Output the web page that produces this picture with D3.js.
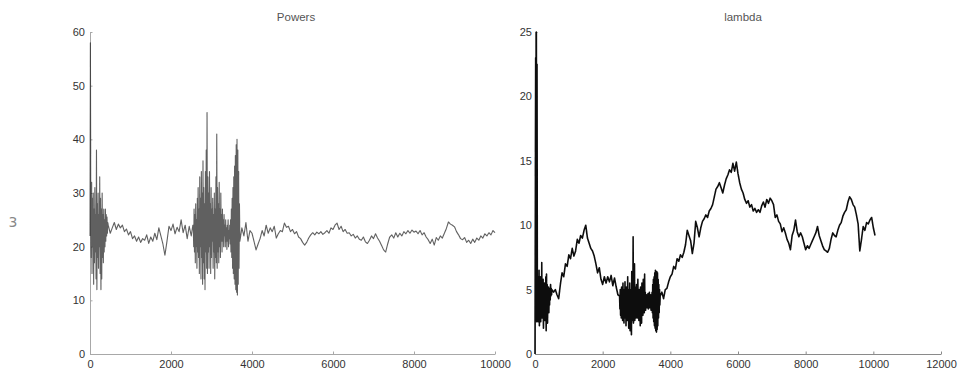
<!DOCTYPE html>
<html>
<head>
<meta charset="utf-8">
<script src="https://cdn.jsdelivr.net/npm/d3@7/dist/d3.min.js"></script>
<style>
  html, body { margin: 0; padding: 0; background: #fff; }
  svg { display: block; }
  .tick text { font-family: Arial, "Liberation Sans", sans-serif; font-size: 11px; fill: #333; }
</style>
</head>
<body>
<svg id="chart" width="962" height="378"></svg>
<script>
// Panel titles and tick values.
const powersTitle = 'Powers';
const lambdaTitle = 'lambda';
const powersXTicks = [0, 2000, 4000, 6000, 8000, 10000];
const powersYTicks = [0, 10, 20, 30, 40, 50, 60];
const lambdaXTicks = [0, 2000, 4000, 6000, 8000, 10000, 12000];
const lambdaYTicks = [0, 5, 10, 15, 20, 25];

// Powers: noisy burst near the start, [iteration, value].
const powersBurstA = [
  [0, 22], [10, 58], [20, 24], [30, 18], [40, 32], [50, 15], [60, 29], [70, 20], [80, 30], [90, 13],
  [100, 27], [110, 17], [120, 31], [130, 19], [140, 26], [150, 14], [160, 38], [170, 12], [180, 28], [190, 18],
  [200, 30], [210, 16], [220, 26], [230, 20], [240, 33], [250, 15], [260, 29], [270, 12], [280, 27], [290, 14],
  [300, 30], [310, 18], [320, 26], [330, 17], [340, 27], [350, 19], [360, 25], [370, 20], [380, 27], [390, 21],
  [400, 26], [410, 22], [420, 25.5], [430, 22.5], [440, 24.5]
];

// Powers: calm stretch between the two bursts, every 50 iterations.
const powersCalmA = [
  [450, 24], [500, 22.5], [550, 23.5], [600, 24.5], [650, 23.2], [700, 24.2], [750, 23.5], [800, 24], [850, 22.8],
  [900, 23.3], [950, 22.2], [1000, 22.8], [1050, 21.5], [1100, 22], [1150, 21], [1200, 21.8], [1250, 20.8],
  [1300, 21.5], [1350, 21.2], [1400, 22.2], [1450, 20.6], [1500, 21.8], [1550, 21], [1600, 22.5], [1650, 21.3],
  [1700, 23.5], [1750, 22], [1800, 20.5], [1850, 18.4], [1900, 21], [1950, 23.8], [2000, 23], [2050, 24.2],
  [2100, 22.4], [2150, 23.6], [2200, 22.8], [2250, 25], [2300, 22.6], [2350, 24], [2400, 21.5], [2450, 23.8],
  [2500, 22], [2540, 24]
];

// Powers: second burst, 2550 - 3700.
const powersBurstB = [
  [2550, 24], [2560, 20], [2570, 27], [2580, 19], [2590, 26], [2600, 17], [2610, 28], [2620, 20], [2630, 25], [2640, 16],
  [2650, 29], [2660, 19], [2670, 31], [2680, 18], [2690, 27], [2700, 15], [2710, 33], [2720, 20], [2730, 29], [2740, 14],
  [2750, 34], [2760, 18], [2770, 30], [2780, 13], [2790, 36], [2800, 17], [2810, 31], [2820, 14], [2830, 28], [2840, 12],
  [2850, 34], [2860, 19], [2870, 38], [2880, 16], [2890, 45], [2900, 15], [2910, 33], [2920, 19], [2930, 30], [2940, 16],
  [2950, 34], [2960, 20], [2970, 28], [2980, 15], [2990, 31], [3000, 18], [3010, 27], [3020, 21], [3030, 29], [3040, 16],
  [3050, 26], [3060, 19], [3070, 30], [3080, 14], [3090, 27], [3100, 18], [3110, 33], [3120, 17], [3130, 41], [3140, 16],
  [3150, 31], [3160, 19], [3170, 28], [3180, 17], [3190, 32], [3200, 20], [3210, 27], [3220, 18], [3230, 30], [3240, 21],
  [3250, 26], [3260, 19], [3270, 27], [3280, 21], [3290, 25], [3300, 20], [3310, 26], [3320, 22], [3330, 24], [3340, 20],
  [3350, 25], [3360, 21], [3370, 23.5], [3380, 19.5], [3390, 24], [3400, 21], [3410, 25], [3420, 20], [3430, 23], [3440, 21.5],
  [3450, 24], [3460, 20.5], [3470, 25], [3480, 19], [3490, 27], [3500, 18], [3510, 29], [3520, 16], [3530, 31], [3540, 15],
  [3550, 33], [3560, 14], [3570, 35], [3580, 13], [3590, 37], [3600, 12], [3610, 39], [3620, 11.5], [3630, 40], [3640, 11],
  [3650, 38], [3660, 13], [3670, 34], [3680, 16], [3690, 28]
];

// Powers: settled tail, every 50 iterations.
const powersCalmB = [
  [3700, 21], [3750, 23.5], [3800, 22], [3850, 24.5], [3900, 21], [3950, 23], [4000, 22.5], [4050, 21], [4100, 19.4],
  [4150, 20.5], [4200, 21.5], [4250, 23], [4300, 22], [4350, 24], [4400, 22.5], [4450, 23.5], [4500, 22.8], [4550, 23.8],
  [4600, 21.6], [4650, 22.4], [4700, 23], [4750, 22.8], [4800, 24.4], [4850, 23.6], [4900, 23.8], [4950, 22.8],
  [5000, 23.2], [5050, 22.4], [5100, 22.8], [5150, 21.8], [5200, 21.5], [5250, 20.8], [5300, 20.3], [5350, 20.8],
  [5400, 21.6], [5450, 22.2], [5500, 22.6], [5550, 22.2], [5600, 22.7], [5650, 22.4], [5700, 22.8], [5750, 22.3],
  [5800, 22.6], [5850, 23], [5900, 22.5], [5950, 23.5], [6000, 23.2], [6050, 24], [6100, 24.4], [6150, 23.2],
  [6200, 23.8], [6250, 22.8], [6300, 23.2], [6350, 22.5], [6400, 22.6], [6450, 22], [6500, 22.3], [6550, 21.6],
  [6600, 22], [6650, 21.4], [6700, 21.2], [6750, 21.8], [6800, 20.9], [6850, 20.6], [6900, 21.2], [6950, 22],
  [7000, 21.5], [7050, 22.4], [7100, 21.6], [7150, 21], [7200, 20.2], [7250, 19.4], [7300, 19], [7350, 20.5],
  [7400, 21.8], [7450, 22.2], [7500, 21.6], [7550, 22.6], [7600, 21.8], [7650, 22.5], [7700, 22], [7750, 22.8],
  [7800, 22.4], [7850, 23], [7900, 22.5], [7950, 23.1], [8000, 22.7], [8050, 22.9], [8100, 22.4], [8150, 23],
  [8200, 22.2], [8250, 22.6], [8300, 21.8], [8350, 21.3], [8400, 20.6], [8450, 21.4], [8500, 20.3], [8550, 21.7],
  [8600, 21.2], [8650, 22], [8700, 21.6], [8750, 22.5], [8800, 23.4], [8850, 24.6], [8900, 24.2], [8950, 24],
  [9000, 23.7], [9050, 22.8], [9100, 22.2], [9150, 21.5], [9200, 21.3], [9250, 21.7], [9300, 20.8], [9350, 21.2],
  [9400, 20.6], [9450, 21.4], [9500, 20.8], [9550, 21.6], [9600, 21.2], [9650, 22], [9700, 21.6], [9750, 22.4],
  [9800, 22], [9850, 22.6], [9900, 22.2], [9950, 23], [10000, 22.6]
];

// lambda: spike and burst at the start.
const lambdaBurstA = [
  [0, 0], [10, 12], [20, 23], [30, 3], [40, 25], [50, 2.5], [60, 22.5], [70, 3.5], [80, 6], [90, 2.5],
  [100, 5.5], [110, 3], [120, 6.5], [130, 2.2], [140, 5], [150, 3.8], [160, 6], [170, 2.5], [180, 5.5], [190, 3],
  [200, 7.1], [210, 2.8], [220, 5.2], [230, 3.5], [240, 5.8], [250, 2], [260, 4.8], [270, 3.2], [280, 5.5], [290, 2.6],
  [300, 5], [310, 3.8], [320, 6], [330, 1.8], [340, 6.2], [350, 3], [360, 5.4], [370, 2.4], [380, 4.8], [390, 3.5],
  [400, 5.2], [410, 3.2], [420, 4.9], [430, 3.8], [440, 5.1], [450, 4.2], [460, 5.4], [470, 4.5], [480, 5.1], [490, 4.6]
];

// lambda: first climb and fall.
const lambdaCalmA = [
  [500, 5], [550, 4.8], [600, 5], [650, 4.6], [700, 4.3], [750, 5.4], [800, 6.3], [850, 6], [900, 7], [950, 6.8],
  [1000, 7.7], [1050, 7.4], [1100, 8.2], [1150, 7.6], [1200, 8], [1250, 8.9], [1300, 8.6], [1350, 9.2], [1400, 9],
  [1450, 9.6], [1500, 10], [1550, 9], [1600, 8.6], [1650, 8.2], [1700, 8], [1750, 7.6], [1800, 7], [1850, 6.3],
  [1900, 6.7], [1950, 5.8], [2000, 5.4], [2050, 6], [2100, 5.5], [2150, 6], [2200, 5.6], [2250, 6.1], [2300, 5.3],
  [2350, 5.9], [2400, 5.2], [2450, 4.6]
];

// lambda: second burst, 2500 - 3700.
const lambdaBurstB = [
  [2500, 4.5], [2510, 3.5], [2520, 5], [2530, 3], [2540, 4.8], [2550, 2.8], [2560, 5.2], [2570, 3.2], [2580, 4.6], [2590, 2.6],
  [2600, 5.5], [2610, 3], [2620, 4.4], [2630, 2.4], [2640, 5], [2650, 3.3], [2660, 5.6], [2670, 2.8], [2680, 4.6], [2690, 2.2],
  [2700, 5.2], [2710, 3.4], [2720, 4.8], [2730, 2.6], [2740, 6], [2750, 3], [2760, 5], [2770, 2], [2780, 4.4], [2790, 2.8],
  [2800, 5.5], [2810, 1.8], [2820, 4.6], [2830, 2.4], [2840, 5], [2850, 1.5], [2860, 6.4], [2870, 3], [2880, 4.8], [2890, 2.6],
  [2900, 9.1], [2910, 2.4], [2920, 5.8], [2930, 3.2], [2940, 7], [2950, 2.6], [2960, 5.2], [2970, 3.6], [2980, 4.6], [2990, 2.8],
  [3000, 5.4], [3010, 3.4], [3020, 4.8], [3030, 2.8], [3040, 5.8], [3050, 3.6], [3060, 4.6], [3070, 2.6], [3080, 5], [3090, 3.3],
  [3100, 4.4], [3110, 2.2], [3120, 5.2], [3130, 3.6], [3140, 4.8], [3150, 2.4], [3160, 5.5], [3170, 3.5], [3180, 4.5], [3190, 3],
  [3200, 5.8], [3210, 3.8], [3220, 4.6], [3230, 3.2], [3240, 6.2], [3250, 3.6], [3260, 4.8], [3270, 3.4], [3280, 4.4], [3290, 3.8],
  [3300, 4.6], [3310, 3.6], [3320, 4.3], [3330, 3.9], [3340, 4.7], [3350, 3.5], [3360, 4.4], [3370, 4], [3380, 4.8], [3390, 3.6],
  [3400, 4.2], [3410, 3.9], [3420, 4.6], [3430, 3.4], [3440, 4.5], [3450, 4], [3460, 4.8], [3470, 3.2], [3480, 5.4], [3490, 2.8],
  [3500, 5.8], [3510, 2.5], [3520, 6], [3530, 2.2], [3540, 6.3], [3550, 2], [3560, 6.5], [3570, 1.8], [3580, 6.2], [3590, 1.7],
  [3600, 6.4], [3610, 1.9], [3620, 6.3], [3630, 2.2], [3640, 5.8], [3650, 2.8], [3660, 5.4], [3670, 3.2], [3680, 5], [3690, 3.8]
];

// lambda: long climb to the peak and the wandering tail.
const lambdaCalmB = [
  [3700, 4.5], [3750, 4.8], [3800, 4.3], [3850, 5], [3900, 5.1], [3950, 5.6], [4000, 6], [4050, 6.2], [4100, 6.8],
  [4150, 6.6], [4200, 7.4], [4250, 7.2], [4300, 7.7], [4350, 7.5], [4400, 7.9], [4450, 8.5], [4500, 9.6], [4550, 9.2],
  [4600, 8.8], [4650, 7.8], [4700, 8.6], [4750, 10.3], [4800, 9.8], [4850, 9.1], [4900, 9.8], [4950, 10.3], [5000, 10.5],
  [5050, 10.8], [5100, 10.6], [5150, 11.1], [5200, 11.3], [5250, 11.6], [5300, 12.2], [5350, 12.8], [5400, 13],
  [5450, 13.3], [5500, 12.9], [5550, 12.5], [5600, 13.1], [5650, 13.6], [5700, 13.9], [5750, 14.3], [5800, 14.1],
  [5850, 14.8], [5900, 14.2], [5950, 14.9], [6000, 14], [6050, 13.3], [6100, 12.8], [6150, 12.5], [6200, 12],
  [6250, 11.7], [6300, 11.9], [6350, 11.4], [6400, 11.6], [6450, 11.1], [6500, 11.3], [6550, 11], [6600, 11.2],
  [6650, 11], [6700, 11.5], [6750, 11.8], [6800, 11.4], [6850, 12], [6900, 11.7], [6950, 12.1], [7000, 11.9],
  [7050, 11.6], [7100, 10.6], [7150, 10.8], [7200, 10.3], [7250, 10.1], [7300, 9.5], [7350, 9.8], [7400, 9.4],
  [7450, 8.9], [7500, 8.6], [7550, 8.1], [7600, 9.2], [7650, 9.6], [7700, 10.4], [7750, 9.5], [7800, 9.1],
  [7850, 9.4], [7900, 9.1], [7950, 8.6], [8000, 8.1], [8050, 8.4], [8100, 8.2], [8150, 8.5], [8200, 8.8],
  [8250, 9.1], [8300, 9.4], [8350, 9.9], [8400, 9.2], [8450, 8.8], [8500, 8.4], [8550, 8.1], [8600, 8],
  [8650, 7.9], [8700, 8.2], [8750, 8.9], [8800, 9.4], [8850, 9.2], [8900, 9.1], [8950, 9.6], [9000, 10],
  [9050, 10.2], [9100, 10.7], [9150, 11], [9200, 11.2], [9250, 11.8], [9300, 12.2], [9350, 12], [9400, 11.6],
  [9450, 11.4], [9500, 10.8], [9550, 10.1], [9600, 8], [9650, 8.9], [9700, 9.9], [9750, 9.6], [9800, 10.2],
  [9850, 10.1], [9900, 10.4], [9950, 10.6], [10000, 9.8], [10050, 9.2]
];

const svg = d3.select('#chart');

// Slight blur so the thin traces look like the scanned original.
svg.append('defs')
  .append('filter')
  .attr('id', 'soft')
  .append('feGaussianBlur')
  .attr('stdDeviation', 0.35);

/**
 * Draw one MATLAB-like panel: left and bottom axes with inward ticks,
 * a title and a single trace.
 */
function drawPanel(opts) {
  const x = d3.scaleLinear().domain(opts.xDomain).range([opts.left, opts.right]);
  const y = d3.scaleLinear().domain(opts.yDomain).range([opts.bottom, opts.top]);

  const g = svg.append('g');

  const xAxis = g.append('g')
    .attr('transform', 'translate(0,' + opts.bottom + ')')
    .call(d3.axisBottom(x).tickValues(opts.xTicks).tickFormat(d3.format('d'))
      .tickSizeInner(-2.5).tickSizeOuter(0).tickPadding(6));
  const yAxis = g.append('g')
    .attr('transform', 'translate(' + opts.left + ',0)')
    .call(d3.axisLeft(y).tickValues(opts.yTicks).tickFormat(d3.format('d'))
      .tickSizeInner(-2.5).tickSizeOuter(0).tickPadding(opts.yPad));

  [xAxis, yAxis].forEach(function (a) {
    a.select('.domain').attr('stroke', opts.axisColor).attr('stroke-width', 1);
    a.selectAll('.tick line').attr('stroke', opts.axisColor);
  });

  g.append('text')
    .attr('x', opts.titleX)
    .attr('y', 21)
    .attr('text-anchor', 'middle')
    .attr('font-family', 'Arial, "Liberation Sans", sans-serif')
    .attr('font-size', 11.5)
    .attr('fill', '#555')
    .text(opts.title);

  // Join the pieces of the trace in iteration order.
  const points = [].concat.apply([], opts.pieces).sort(function (a, b) { return a[0] - b[0]; });
  const line = d3.line()
    .x(function (d) { return x(d[0]); })
    .y(function (d) { return y(d[1]); });

  g.append('path')
    .datum(points)
    .attr('d', line)
    .attr('fill', 'none')
    .attr('stroke', opts.lineColor)
    .attr('stroke-opacity', opts.lineOpacity)
    .attr('stroke-width', opts.lineWidth)
    .attr('stroke-linejoin', 'round')
    .attr('filter', 'url(#soft)');
}

drawPanel({
  title: powersTitle, titleX: 296,
  xDomain: [0, 10000], yDomain: [0, 60],
  left: 90, right: 495, top: 32, bottom: 354,
  xTicks: powersXTicks, yTicks: powersYTicks, yPad: 5,
  axisColor: '#a8a8a8', lineColor: '#222', lineOpacity: 0.72, lineWidth: 1.1,
  pieces: [powersBurstA, powersCalmA, powersBurstB, powersCalmB]
});

drawPanel({
  title: lambdaTitle, titleX: 743,
  xDomain: [0, 12000], yDomain: [0, 25],
  left: 535, right: 941, top: 32, bottom: 354,
  xTicks: lambdaXTicks, yTicks: lambdaYTicks, yPad: 3,
  axisColor: '#8a8a8a', lineColor: '#111', lineOpacity: 1, lineWidth: 1.6,
  pieces: [lambdaBurstA, lambdaCalmA, lambdaBurstB, lambdaCalmB]
});

// Stray mark on the left edge of the scan.
svg.append('text')
  .attr('x', 13)
  .attr('y', 227)
  .attr('text-anchor', 'middle')
  .attr('font-family', '"DejaVu Sans", sans-serif')
  .attr('font-size', 14)
  .attr('fill', '#888')
  .text('3');
</script>
</body>
</html>
